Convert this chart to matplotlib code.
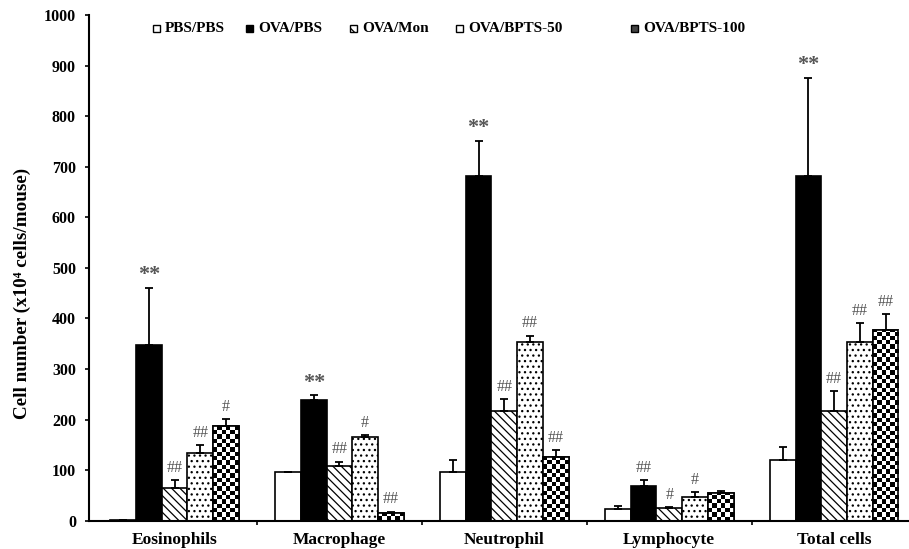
import numpy as np
import matplotlib
matplotlib.use("Agg")
import matplotlib.pyplot as plt
from matplotlib.patches import Rectangle

categories = ["Eosinophils", "Macrophage", "Neutrophil", "Lymphocyte", "Total cells"]
groups = ["PBS/PBS", "OVA/PBS", "OVA/Mon", "OVA/BPTS-50", "OVA/BPTS-100"]

pbs_pbs = [1, 96, 96, 24, 120]
ova_pbs = [348, 238, 681, 68, 682]
ova_mon = [65, 109, 217, 25, 217]
ova_b50 = [133, 166, 354, 47, 354]
ova_b100 = [188, 16, 125, 54, 377]

err_pbs_pbs = [0.5, 1, 25, 5, 26]
err_ova_pbs = [112, 10, 70, 12, 193]
err_ova_mon = [16, 8, 24, 2, 39]
err_ova_b50 = [16, 4, 12, 9, 36]
err_ova_b100 = [13, 2, 15, 5, 32]

sig_pbs_pbs = ["", "", "", "", ""]
sig_ova_pbs = ["**", "**", "**", "##", "**"]
sig_ova_mon = ["##", "##", "##", "#", "##"]
sig_ova_b50 = ["##", "#", "##", "#", "##"]
sig_ova_b100 = ["#", "##", "##", "", "##"]

yticks = [0, 100, 200, 300, 400, 500, 600, 700, 800, 900, 1000]

values = [pbs_pbs, ova_pbs, ova_mon, ova_b50, ova_b100]
errors = [err_pbs_pbs, err_ova_pbs, err_ova_mon, err_ova_b50, err_ova_b100]
sigs = [sig_pbs_pbs, sig_ova_pbs, sig_ova_mon, sig_ova_b50, sig_ova_b100]

plt.rcParams['hatch.linewidth'] = 0.9
SERIF = ['Liberation Serif', 'DejaVu Serif']

fig = plt.figure(figsize=(9.09, 5.49), dpi=100)
ax = fig.add_axes([88.5 / 909, 28.3 / 549, 1 - 88.5 / 909, (520.7 - 15) / 549])
XL = (-0.022, 4.954)
YL = (0, 1000)

bw = 0.156
centers = np.arange(len(categories)) + 0.5
offsets = (np.arange(len(groups)) - 2) * bw

styles = [
    dict(facecolor="white", hatch=None),
    dict(facecolor="black", hatch=None),
    dict(facecolor="white", hatch="\\\\\\\\"),
    dict(facecolor="white", hatch="..."),
    dict(facecolor="white", hatch=None),
]

bars_all = []
for gi in range(len(groups)):
    xs = centers + offsets[gi]
    st = styles[gi]
    bars = ax.bar(xs, values[gi], width=bw, facecolor=st["facecolor"], edgecolor="black",
                  linewidth=1.2, hatch=st["hatch"], zorder=2)
    bars_all.append(bars)
    ax.errorbar(xs, values[gi], yerr=[np.zeros(len(xs)), errors[gi]], fmt="none",
                ecolor="black", elinewidth=1.3, capsize=3, capthick=1.3, zorder=3)
    for x, v, e, s in zip(xs, values[gi], errors[gi], sigs[gi]):
        if s == "**":
            ax.annotate(s, (x, v + e), xytext=(0, 2), textcoords="offset points",
                        ha="center", va="bottom", fontsize=16, color="#555555",
                        family=SERIF, fontweight="bold", zorder=4)
        elif s:
            ax.annotate(s, (x, v + e), xytext=(0, 3), textcoords="offset points",
                        ha="center", va="bottom", fontsize=11.5, color="#555555",
                        family=SERIF, zorder=4)

# checkerboard fill for OVA/BPTS-100
cell_x = 0.026
cell_y = 8.5
for bar in bars_all[4]:
    x0 = bar.get_x()
    w = bar.get_width()
    h = bar.get_height()
    nx = max(1, int(round(w / cell_x)))
    ny = max(1, int(np.ceil(h / cell_y)))
    img = (np.add.outer(np.arange(ny), np.arange(nx)) % 2).astype(float)
    im = ax.imshow(img, cmap="gray", extent=(x0, x0 + w, 0, ny * cell_y), origin="lower",
                   aspect="auto", interpolation="nearest", zorder=2.1, vmin=0, vmax=1)
    im.set_clip_path(bar)
    edge = Rectangle((x0, 0), w, h, facecolor="none", edgecolor="black", linewidth=1.2, zorder=2.2)
    ax.add_patch(edge)

ax.set_xlim(*XL)
ax.set_ylim(*YL)

ax.spines["top"].set_visible(False)
ax.spines["right"].set_visible(False)
ax.spines["left"].set_linewidth(1.5)
ax.spines["bottom"].set_linewidth(1.5)

ax.set_yticks(yticks)
ax.set_yticklabels([str(t) for t in yticks], fontsize=11.5, fontweight="bold", family=SERIF)
ax.tick_params(axis="y", direction="out", length=3, width=1.2, pad=6)

ax.set_xticks(np.arange(1, len(categories)))
ax.set_xticklabels([])
ax.tick_params(axis="x", which="major", direction="out", length=3, width=1.2)
ax.set_xticks(centers, minor=True)
ax.set_xticklabels(categories, minor=True, fontsize=12.5, fontweight="bold", family=SERIF)
ax.tick_params(axis="x", which="minor", length=0, pad=8)

ax.set_ylabel("Cell number (x10\u2074 cells/mouse)", fontsize=13.8, fontweight="bold",
              family=SERIF)
ax.yaxis.set_label_coords(-0.07, 0.45)

# legend
leg_x = [156, 249, 353, 459, 634]
leg_y = 28
for gi, name in enumerate(groups):
    xp = leg_x[gi]
    xa, ya = ax.transAxes.inverted().transform(fig.transFigure.transform((xp / 909, 1 - leg_y / 549)))
    st = styles[gi]
    sqw = 7 / (909 - 88.5)
    sqh = 7 / 505.7
    fc = st["facecolor"]
    if gi == 4:
        fc = "#444444"
    r = Rectangle((xa - sqw / 2, ya - sqh / 2), sqw, sqh, transform=ax.transAxes,
                  facecolor=fc, edgecolor="black", linewidth=1.0,
                  hatch=("\\\\\\" if gi == 2 else None), clip_on=False)
    ax.add_patch(r)
    ax.text(xa + 9 / (909 - 88.5), ya, name, transform=ax.transAxes, ha="left", va="center",
            fontsize=11, fontweight="bold", family=SERIF)

fig.savefig("out.png", dpi=100)
